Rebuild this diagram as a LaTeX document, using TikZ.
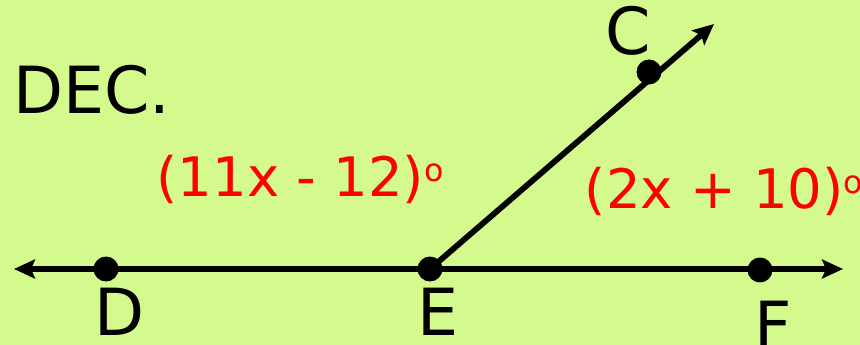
\documentclass[tikz,border=0pt]{standalone}
\usepackage{fontspec}
\setmainfont{DejaVu Sans}
\usetikzlibrary{arrows.meta,positioning}
\definecolor{BoardGreen}{HTML}{D4F98C}
\definecolor{AngleRed}{HTML}{FF0000}
\newcommand{\angdeg}{\raisebox{.5ex}{\fontsize{18}{18}\selectfont o}}

\begin{document}
\begin{tikzpicture}[x=0.02cm,y=0.02cm,
  >={Stealth[length=0.42cm,width=0.38cm,inset=0.08cm]},
  pt/.style={circle,fill=black,inner sep=0pt,minimum size=0.5cm},
  lbl/.style={font=\fontsize{37}{40}\selectfont,inner sep=0pt},
  meas/.style={font=\fontsize{31}{34}\selectfont,text=AngleRed,inner sep=0pt},
  ray/.style={line width=3.3pt}]
  \fill[BoardGreen] (0,0) rectangle (860,345);
  \useasboundingbox (0,0) rectangle (860,345);
  % line DEF and ray EC
  \coordinate (lend) at (14,76);
  \coordinate (rend) at (843,76);
  \coordinate (ctip) at (714,321);
  \node[pt] (D) at (106,76) {};
  \node[pt] (E) at (430,76) {};
  \node[pt] (F) at (760,75) {};
  \node[pt] (C) at (649,273) {};
  \draw[ray,<->] (lend) -- (rend);
  \draw[ray,->] (E.center) -- (ctip);
  % point names
  \node[lbl,below=0.12cm of D,xshift=0.28cm] (Dlbl) {D};
  \node[lbl,below=0.12cm of E,xshift=0.16cm] (Elbl) {E};
  \node[lbl,below=0.36cm of F,xshift=0.26cm] (Flbl) {F};
  \node[lbl,above=0.06cm of C,xshift=-0.42cm] (Clbl) {C};
  \node[lbl,anchor=base west] (title) at (13,231) {DEC.};
  % angle measures
  \node[meas] (mDEC) at (300,166) {(11x - 12)\angdeg};
  \node[meas] (mCEF) at (724,154) {(2x + 10)\angdeg};
\end{tikzpicture}
\end{document}
